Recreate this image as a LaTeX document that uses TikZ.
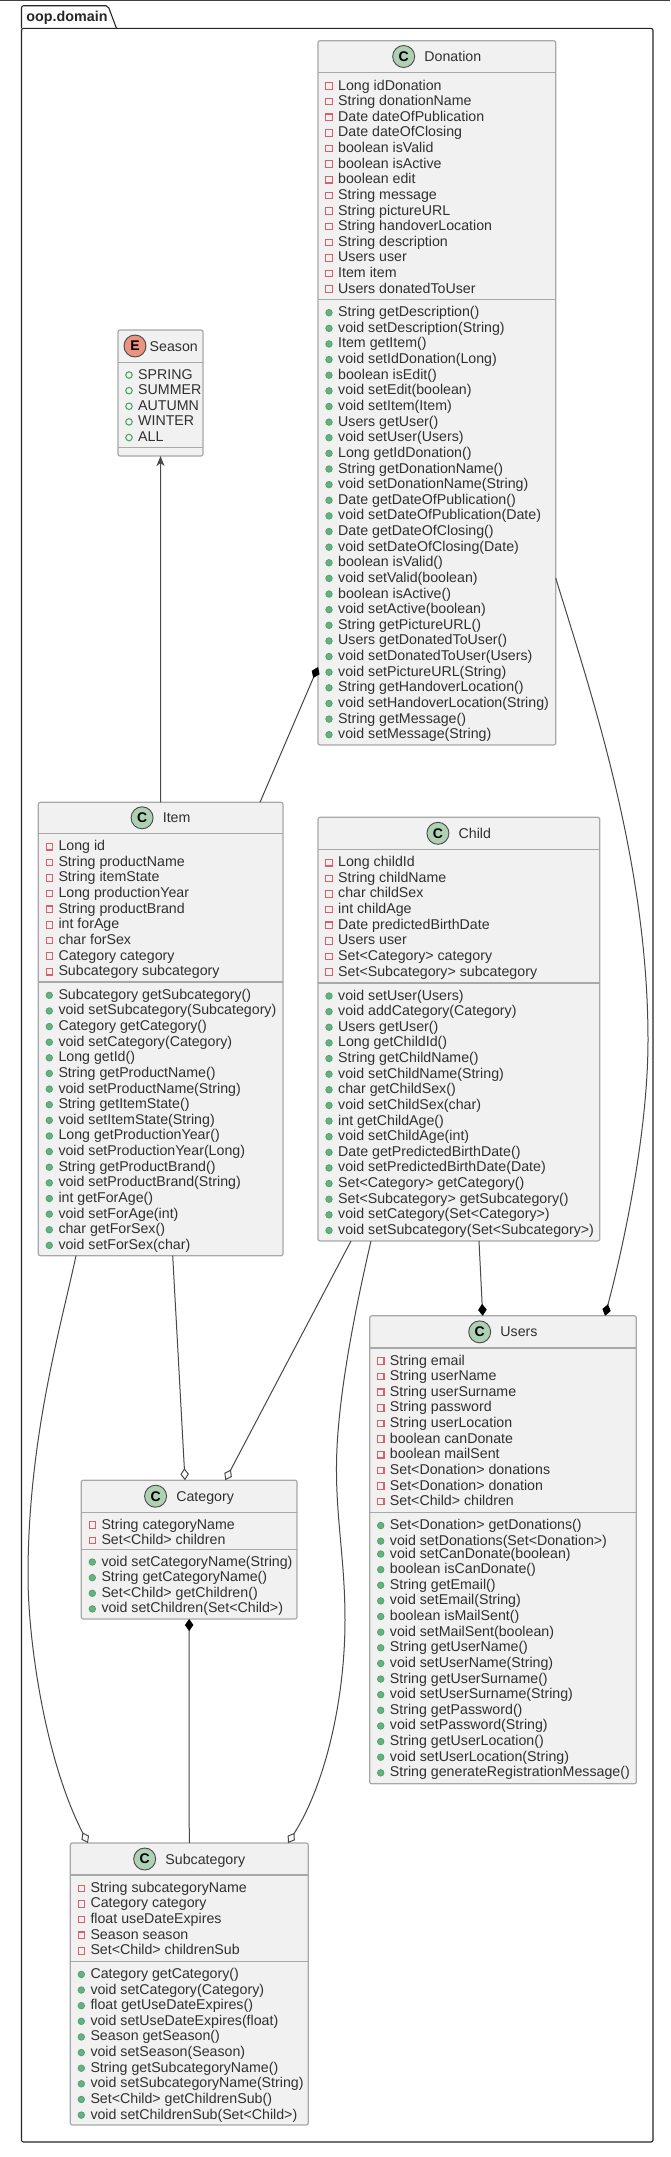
\documentclass[tikz,border=0pt]{standalone}
\usepackage{fontspec}
\setmainfont{Liberation Sans}
\usetikzlibrary{arrows.meta,positioning}

\definecolor{boxfill}{HTML}{F1F1F1}
\definecolor{boxline}{HTML}{A8A8A8}
\definecolor{wireline}{HTML}{484848}
\definecolor{textink}{HTML}{303030}
\definecolor{privink}{HTML}{D9606A}
\definecolor{pubink}{HTML}{4FA36C}
\definecolor{spotC}{HTML}{ADD1B2}
\definecolor{spotE}{HTML}{EB937F}

% name, title, left, top, right, header line, member line, bottom
\newcommand{\umlclass}[8]{%
  \node[classbox, anchor=north west, minimum width=#5pt-#3pt, minimum height=#8pt-#4pt] (#1) at (#3,#4) {};
  \draw[sepline] (#3,#6) -- (#5,#6);
  \draw[sepline] (#3,#7) -- (#5,#7);
  \node[titletext] (#1-title) at ({(#3+#5)/2},{(#4+#6)/2}) {\hspace*{32pt}#2};
  \node[spot, fill=spotC, anchor=west] (#1-spot) at (#1-title.west) {C};
}
% name, kind of marker, left of box, y of first row, rows
\newcommand{\members}[5]{%
  \foreach \m [count=\rowno from 0] in {#5} {
    \node[membertext] (#1-#2-\rowno) at (#3+20,#4+\rowno*15.63) {\m};
    \node[#2mark] (#1-#2m-\rowno) at (#3+11,#4+1+\rowno*15.63) {};
  }
}

\begin{document}
\begin{tikzpicture}[
    x=1pt, y=-1pt,
    classbox/.style={draw=boxline, line width=1.2pt, fill=boxfill, rounded corners=2pt, inner sep=0pt, outer sep=0pt},
    sepline/.style={draw=boxline, line width=1.2pt},
    titletext/.style={font=\fontsize{14.2}{16}\selectfont, text=textink, inner sep=0pt, text height=13pt, text depth=3pt},
    membertext/.style={font=\fontsize{14.2}{16}\selectfont, text=textink, inner sep=0pt, anchor=west, text height=13pt, text depth=3pt},
    spot/.style={circle, draw=wireline, line width=0.9pt, minimum size=22pt, inner sep=0pt, text=black, font=\bfseries\fontsize{14}{16}\selectfont},
    privmark/.style={draw=privink, fill=boxfill, line width=1.1pt, minimum size=6.5pt, inner sep=0pt},
    pubmark/.style={circle, draw=pubink, fill=pubink!85, line width=0.8pt, minimum size=6.5pt, inner sep=0pt},
    enummark/.style={circle, draw=pubink, fill=boxfill, line width=1.1pt, minimum size=6.5pt, inner sep=0pt},
    wire/.style={draw=wireline, line width=1pt},
    owned/.style={{Diamond[length=12pt,width=8.5pt,fill=black,color=black]}-},
    shared/.style={{Diamond[length=12pt,width=8.5pt,fill=white]}-},
    uses/.style={-{Stealth[length=10pt,width=8pt,inset=3pt]}}
  ]
  \useasboundingbox (0,0) rectangle (670,2157);
  \fill[white] (0,0) rectangle (670,2157);
  \draw[black!75, line width=1.2pt] (0,0.5) -- (670,0.5);

  % package
  \draw[line width=1.1pt, draw=black!85, rounded corners=2pt] (21.5,28.4) -- (21.5,2142) -- (653,2142) -- (653,28.4) -- cycle;
  \draw[line width=1.1pt, draw=black!85, rounded corners=2pt] (21.5,28.4) -- (21.5,5.8) -- (108,5.8) -- (116.5,28.4);
  \node[font=\bfseries\fontsize{14.3}{16}\selectfont, text=black!85, inner sep=0pt] (pkg) at (67,17.5) {oop.domain};

  % season
  \node[classbox, anchor=north west, minimum width=85pt, minimum height=126pt] (season) at (118,330) {};
  \draw[sepline] (118,362.3) -- (203,362.3);
  \draw[sepline] (118,447.7) -- (203,447.7);
  \node[spot, fill=spotE, font=\bfseries\rmfamily\fontsize{14}{16}\selectfont] (season-spot) at (135,346) {E};
  \node[titletext, anchor=west] (season-title) at (149.5,346) {Season};
  \members{season}{enum}{118}{374}{SPRING,SUMMER,AUTUMN,WINTER,ALL}

  % donation
  \umlclass{donation}{Donation}{318}{40.7}{555.7}{72.3}{299.3}{745}
  \members{donation}{priv}{318}{85}{Long idDonation,String donationName,Date dateOfPublication,Date dateOfClosing,boolean isValid,boolean isActive,boolean edit,String message,String pictureURL,String handoverLocation,String description,Users user,Item item,Users donatedToUser}
  \members{donation}{pub}{318}{311.7}{String getDescription(),void setDescription(String),Item getItem(),void setIdDonation(Long),boolean isEdit(),void setEdit(boolean),void setItem(Item),Users getUser(),void setUser(Users),Long getIdDonation(),String getDonationName(),void setDonationName(String),Date getDateOfPublication(),void setDateOfPublication(Date),Date getDateOfClosing(),void setDateOfClosing(Date),boolean isValid(),void setValid(boolean),boolean isActive(),void setActive(boolean),String getPictureURL(),Users getDonatedToUser(),void setDonatedToUser(Users),void setPictureURL(String),String getHandoverLocation(),void setHandoverLocation(String),String getMessage(),void setMessage(String)}

  % item
  \umlclass{item}{Item}{38.3}{802.3}{283}{833.3}{982}{1255.7}
  \members{item}{priv}{38.3}{845.7}{Long id,String productName,String itemState,Long productionYear,String productBrand,int forAge,char forSex,Category category,Subcategory subcategory}
  \members{item}{pub}{38.3}{994.3}{Subcategory getSubcategory(),void setSubcategory(Subcategory),Category getCategory(),void setCategory(Category),Long getId(),String getProductName(),void setProductName(String),String getItemState(),void setItemState(String),Long getProductionYear(),void setProductionYear(Long),String getProductBrand(),void setProductBrand(String),int getForAge(),void setForAge(int),char getForSex(),void setForSex(char)}

  % child
  \umlclass{child}{Child}{318}{817.3}{599.7}{849.3}{983}{1241}
  \members{child}{priv}{318}{861.7}{Long childId,String childName,char childSex,int childAge,Date predictedBirthDate,Users user,Set<Category> category,Set<Subcategory> subcategory}
  \members{child}{pub}{318}{995}{void setUser(Users),void addCategory(Category),Users getUser(),Long getChildId(),String getChildName(),void setChildName(String),char getChildSex(),void setChildSex(char),int getChildAge(),void setChildAge(int),Date getPredictedBirthDate(),void setPredictedBirthDate(Date),Set<Category> getCategory(),Set<Subcategory> getSubcategory(),void setCategory(Set<Category>),void setSubcategory(Set<Subcategory>)}

  % users
  \umlclass{users}{Users}{369.7}{1315.8}{636.3}{1347.9}{1512.8}{1783.8}
  \members{users}{priv}{369.7}{1360}{String email,String userName,String userSurname,String password,String userLocation,boolean canDonate,boolean mailSent,Set<Donation> donations,Set<Donation> donation,Set<Child> children}
  \members{users}{pub}{369.7}{1524.5}{Set<Donation> getDonations(),void setDonations(Set<Donation>)}
  \members{usersb}{pub}{369.7}{1553}{void setCanDonate(boolean),boolean isCanDonate(),String getEmail(),void setEmail(String),boolean isMailSent(),void setMailSent(boolean),String getUserName(),void setUserName(String),String getUserSurname(),void setUserSurname(String),String getPassword(),void setPassword(String),String getUserLocation(),void setUserLocation(String),String generateRegistrationMessage()}

  % category
  \umlclass{category}{Category}{81.3}{1480.2}{297}{1512.2}{1549.6}{1619}
  \members{category}{priv}{81.3}{1524}{String categoryName,Set<Child> children}
  \members{category}{pub}{81.3}{1561}{void setCategoryName(String),String getCategoryName(),Set<Child> getChildren(),void setChildren(Set<Child>)}

  % subcategory
  \umlclass{subcategory}{Subcategory}{70.3}{1843}{308.3}{1875}{1961.7}{2125}
  \members{subcategory}{priv}{70.3}{1887.3}{String subcategoryName,Category category,float useDateExpires,Season season,Set<Child> childrenSub}
  \members{subcategory}{pub}{70.3}{1973.4}{Category getCategory(),void setCategory(Category),float getUseDateExpires(),void setUseDateExpires(float),Season getSeason(),void setSeason(Season),String getSubcategoryName(),void setSubcategoryName(String),Set<Child> getChildrenSub(),void setChildrenSub(Set<Child>)}

  % connectors
  \draw[wire, uses] (item) -- (season);
  \draw[wire, owned] ([yshift=78pt]donation.south west) -- ([xshift=221.7pt]item.north west);
  \draw[wire, owned] ([xshift=235.3pt]users.north west) .. controls (625,1240) and (648,1130) .. (648,1040)
    .. controls (648,860) and (590,690) .. ([yshift=167pt]donation.south east);
  \draw[wire, owned] ([xshift=113pt]users.north west) -- ([xshift=161pt]child.south west);
  \draw[wire, shared] ([xshift=103.7pt]category.north west) -- ([xshift=134.4pt]item.south west);
  \draw[wire, shared] ([xshift=144pt]category.north west) -- ([xshift=33pt]child.south west);
  \draw[wire, owned] (category) -- (subcategory);
  \draw[wire, shared] ([xshift=17.7pt]subcategory.north west) .. controls (45,1760) and (28,1640) .. (28,1576)
    .. controls (28,1440) and (60,1330) .. ([xshift=37.7pt]item.south west);
  \draw[wire, shared] ([xshift=217.7pt]subcategory.north west) .. controls (325,1785) and (345,1700) .. (345,1620)
    .. controls (345,1560) and (336,1520) .. (336.5,1465)
    .. controls (337,1400) and (355,1310) .. ([xshift=53pt]child.south west);
\end{tikzpicture}
\end{document}
